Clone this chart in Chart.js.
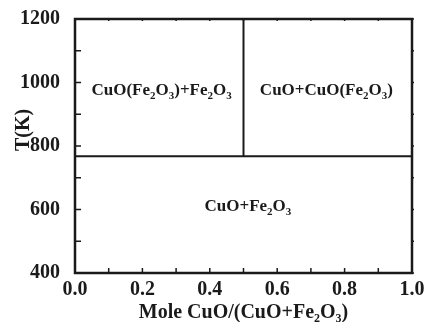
<!DOCTYPE html>
<html>
<head>
<meta charset="utf-8">
<script src="https://cdn.jsdelivr.net/npm/chart.js@4.4.1/dist/chart.umd.min.js"></script>
<style>
  html, body { margin: 0; padding: 0; background: #fff; }
</style>
</head>
<body>
<canvas id="phaseChart" width="425" height="322"></canvas>
<script>
// Phase diagram data
const xLimits = [0, 1];
const yLimits = [400, 1200];
const horizontalBoundary = [{ x: 0, y: 768 }, { x: 1, y: 768 }];
const verticalBoundary = [{ x: 0.5, y: 768 }, { x: 0.5, y: 1200 }];

// Region labels; "_n" marks a subscript digit
const regionTexts = ["CuO(Fe_2O_3)+Fe_2O_3", "CuO+CuO(Fe_2O_3)", "CuO+Fe_2O_3"];
const regionX = [0.257, 0.746, 0.513];
const regionY = [979, 979, 613];

const xTitle = "Mole CuO/(CuO+Fe_2O_3)";
const yTitle = "T(K)";

const FONT = "'Liberation Serif', 'Times New Roman', serif";
const INK = "#1a1a1a";

// Split "Fe_2O_3" into normal/subscript runs
const parseRich = (text) => {
  const parts = [];
  let buf = "";
  for (let i = 0; i < text.length; i++) {
    if (text[i] === "_" && i + 1 < text.length) {
      if (buf) parts.push([buf, false]);
      buf = "";
      parts.push([text[i + 1], true]);
      i++;
    } else {
      buf += text[i];
    }
  }
  if (buf) parts.push([buf, false]);
  return parts;
};

const drawRich = (ctx, text, cx, cy, size) => {
  const parts = parseRich(text);
  const subSize = Math.round(size * 0.62);
  let total = 0;
  parts.forEach(([s, sub]) => {
    ctx.font = `bold ${sub ? subSize : size}px ${FONT}`;
    total += ctx.measureText(s).width;
  });
  let x = cx - total / 2;
  ctx.textBaseline = "alphabetic";
  ctx.textAlign = "left";
  const base = cy + size * 0.33;
  parts.forEach(([s, sub]) => {
    ctx.font = `bold ${sub ? subSize : size}px ${FONT}`;
    ctx.fillText(s, x, sub ? base + size * 0.22 : base);
    x += ctx.measureText(s).width;
  });
};

const decorations = {
  id: "decorations",
  afterDraw(chart) {
    const { ctx, chartArea: a, scales: { x, y } } = chart;
    ctx.save();
    ctx.strokeStyle = INK;
    ctx.fillStyle = INK;

    // inward ticks on bottom/left, small ones on top/right
    ctx.lineWidth = 1.5;
    x.ticks.forEach((t) => {
      const px = x.getPixelForValue(t.value);
      ctx.beginPath();
      ctx.moveTo(px, a.bottom); ctx.lineTo(px, a.bottom - 5);
      ctx.moveTo(px, a.top); ctx.lineTo(px, a.top + 2);
      ctx.stroke();
    });
    y.ticks.forEach((t) => {
      const py = y.getPixelForValue(t.value);
      ctx.beginPath();
      ctx.moveTo(a.left, py); ctx.lineTo(a.left + 6, py);
      ctx.moveTo(a.right, py); ctx.lineTo(a.right + 2, py);
      ctx.stroke();
    });

    // frame
    ctx.lineWidth = 2.5;
    ctx.strokeRect(a.left, a.top, a.right - a.left, a.bottom - a.top);

    // region labels
    regionTexts.forEach((txt, i) => {
      drawRich(ctx, txt, x.getPixelForValue(regionX[i]), y.getPixelForValue(regionY[i]), 17);
    });

    // axis titles
    drawRich(ctx, xTitle, (a.left + a.right) / 2, 311, 20);
    ctx.translate(22, 130);
    ctx.rotate(-Math.PI / 2);
    drawRich(ctx, yTitle, 0, 0, 20);
    ctx.restore();
  },
};

const lineStyle = {
  showLine: true,
  pointRadius: 0,
  borderColor: INK,
  borderWidth: 2,
  fill: false,
};

new Chart(document.getElementById("phaseChart"), {
  type: "scatter",
  data: {
    datasets: [
      { ...lineStyle, data: horizontalBoundary },
      { ...lineStyle, data: verticalBoundary },
    ],
  },
  options: {
    responsive: false,
    animation: false,
    devicePixelRatio: 1,
    layout: { padding: { top: 18, right: 13, left: 0, bottom: 0 } },
    plugins: { legend: { display: false }, tooltip: { enabled: false } },
    scales: {
      x: {
        type: "linear",
        min: xLimits[0],
        max: xLimits[1],
        grid: { display: false },
        border: { display: false },
        afterFit: (scale) => {
          scale.height = 49;
          scale.paddingRight = 0;
          scale.paddingLeft = 0;
        },
        ticks: {
          stepSize: 0.1,
          autoSkip: false,
          maxRotation: 0,
          padding: -3,
          color: INK,
          font: { family: FONT, size: 20, weight: "bold" },
          callback: (v) => (Math.round(v * 10) % 2 === 0 ? v.toFixed(1) : ""),
        },
      },
      y: {
        type: "linear",
        min: yLimits[0],
        max: yLimits[1],
        grid: { display: false },
        border: { display: false },
        afterFit: (scale) => { scale.width = 75; },
        ticks: {
          stepSize: 100,
          autoSkip: false,
          padding: 7,
          color: INK,
          font: { family: FONT, size: 20, weight: "bold" },
          callback: (v) => (v % 200 === 0 ? String(v) : ""),
        },
      },
    },
  },
  plugins: [decorations],
});
</script>
</body>
</html>
